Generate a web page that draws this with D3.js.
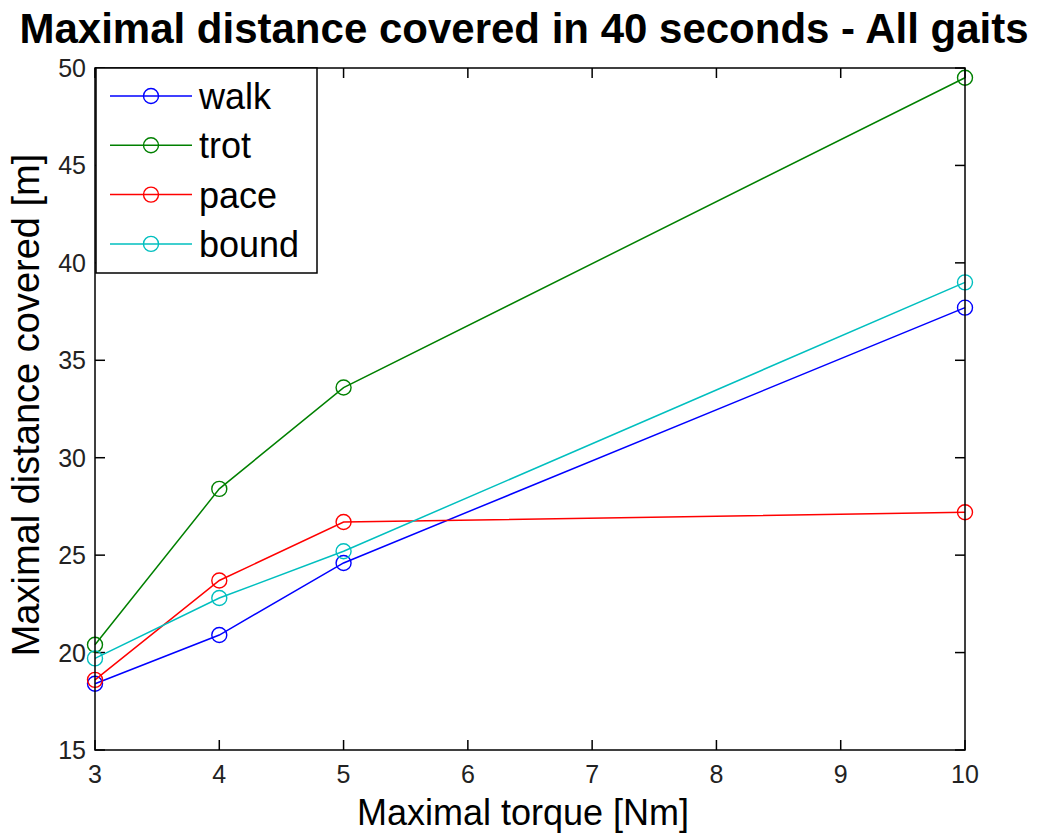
<html lang="en">
<head>
  <script src="https://d3js.org/d3.v7.min.js"></script>
  <style>
    body { margin: 0; background: white; }
    svg text { font-family: "Liberation Sans", Arial, sans-serif; }
  </style>
</head>
<body>
  <svg id="chart" width="1041" height="833" style="background: white"></svg>
  <script>
    // data
    const torque = [3, 4, 5, 10];
    const gaits = ["walk", "trot", "pace", "bound"];
    const walk  = [18.4, 20.9, 24.6, 37.7];
    const trot  = [20.4, 28.4, 33.6, 49.5];
    const pace  = [18.6, 23.7, 26.7, 27.2];
    const bound = [19.7, 22.8, 25.2, 39.0];
    const colors = ["#0000ff", "#008000", "#ff0000", "#00bfbf"];
    const xTicks = [3, 4, 5, 6, 7, 8, 9, 10];
    const yTicks = [15, 20, 25, 30, 35, 40, 45, 50];

    const series = [walk, trot, pace, bound];

    const svg = d3.select("#chart");
    const margin = { top: 68, right: 76, bottom: 83, left: 95 };
    const width = 1041 - margin.left - margin.right;
    const height = 833 - margin.top - margin.bottom;

    const x = d3.scaleLinear().domain([3, 10]).range([margin.left, margin.left + width]);
    const y = d3.scaleLinear().domain([15, 50]).range([margin.top + height, margin.top]);

    // title
    svg.append("text")
      .attr("x", 524).attr("y", 43)
      .attr("text-anchor", "middle")
      .style("font-size", "42px").style("font-weight", "bold")
      .text("Maximal distance covered in 40 seconds - All gaits");

    // ticks, inward on all four sides
    const tickLen = 10;
    const axisG = svg.append("g").attr("stroke", "#000").attr("stroke-width", 1.5);
    xTicks.forEach(t => {
      axisG.append("line").attr("x1", x(t)).attr("x2", x(t))
        .attr("y1", y(15)).attr("y2", y(15) - tickLen);
      axisG.append("line").attr("x1", x(t)).attr("x2", x(t))
        .attr("y1", y(50)).attr("y2", y(50) + tickLen);
    });
    yTicks.forEach(t => {
      axisG.append("line").attr("x1", x(3)).attr("x2", x(3) + tickLen)
        .attr("y1", y(t)).attr("y2", y(t));
      axisG.append("line").attr("x1", x(10)).attr("x2", x(10) - tickLen)
        .attr("y1", y(t)).attr("y2", y(t));
    });

    // tick labels
    svg.append("g").selectAll("text").data(xTicks).enter().append("text")
      .attr("x", d => x(d)).attr("y", 783)
      .attr("text-anchor", "middle")
      .style("font-size", "25px").style("fill", "#222")
      .text(d => d);
    svg.append("g").selectAll("text").data(yTicks).enter().append("text")
      .attr("x", 86).attr("y", d => y(d) + 9)
      .attr("text-anchor", "end")
      .style("font-size", "25px").style("fill", "#222")
      .text(d => d);

    // axis labels
    svg.append("text")
      .attr("x", 523).attr("y", 825)
      .attr("text-anchor", "middle")
      .style("font-size", "36px")
      .text("Maximal torque [Nm]");
    svg.append("text")
      .attr("transform", "translate(39,405) rotate(-90)")
      .attr("text-anchor", "middle")
      .style("font-size", "38px")
      .text("Maximal distance covered [m]");

    // lines and markers
    const line = d3.line().x((d, i) => x(torque[i])).y(d => y(d));
    series.forEach((s, k) => {
      svg.append("path")
        .attr("d", line(s))
        .attr("fill", "none")
        .attr("stroke", colors[k])
        .attr("stroke-width", 1.5);
      svg.append("g").selectAll("circle").data(s).enter().append("circle")
        .attr("cx", (d, i) => x(torque[i]))
        .attr("cy", d => y(d))
        .attr("r", 7.5)
        .attr("fill", "none")
        .attr("stroke", colors[k])
        .attr("stroke-width", 1.4);
    });

    // box
    svg.append("rect")
      .attr("x", x(3)).attr("y", y(50))
      .attr("width", x(10) - x(3)).attr("height", y(15) - y(50))
      .attr("fill", "none").attr("stroke", "#000").attr("stroke-width", 1.5);

    // legend
    const legend = svg.append("g");
    legend.append("rect")
      .attr("x", 96).attr("y", 68).attr("width", 221).attr("height", 205)
      .attr("fill", "white").attr("stroke", "#000").attr("stroke-width", 1.5);
    gaits.forEach((g, k) => {
      const ly = 96 + k * 49.3;
      legend.append("line")
        .attr("x1", 110).attr("x2", 192).attr("y1", ly).attr("y2", ly)
        .attr("stroke", colors[k]).attr("stroke-width", 1.5);
      legend.append("circle")
        .attr("cx", 151).attr("cy", ly).attr("r", 7.5)
        .attr("fill", "none").attr("stroke", colors[k]).attr("stroke-width", 1.4);
      legend.append("text")
        .attr("x", 199).attr("y", ly + 13)
        .style("font-size", "36px")
        .text(g);
    });
  </script>
</body>
</html>
